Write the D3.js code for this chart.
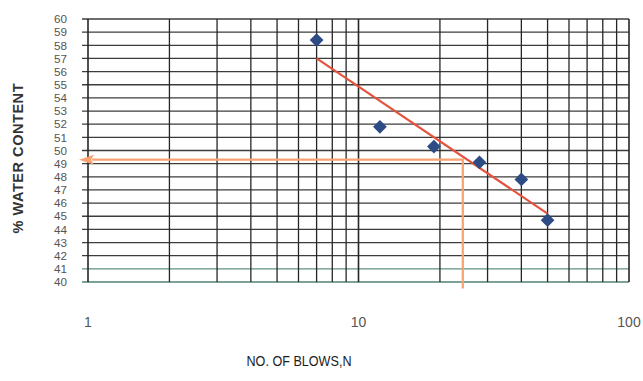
<!DOCTYPE html>
<html>
<head>
<meta charset="utf-8">
<script src="https://cdn.jsdelivr.net/npm/d3@7"></script>
<style>
  body { margin: 0; background: #fff; }
  svg { display: block; font-family: "Liberation Sans", Arial, sans-serif; }
</style>
</head>
<body>
<div id="chart"></div>
<script>
const width = 643,
  height = 381,
  margin = { top: 19, right: 14, bottom: 99, left: 88 }

// data
const blows = [7, 12, 19, 28, 40, 50]
const water = [58.4, 51.8, 50.3, 49.1, 47.8, 44.7]
const fitBlows = [7, 50]
const fitWater = [57.0, 45.2]
const guideBlows = [1.035, 24.3, 24.3]
const guideWater = [49.3, 49.3, 39.5]
const xTicks = [1, 10, 100]
const xGrid = [1, 2, 3, 4, 5, 6, 7, 8, 9, 10, 20, 30, 40, 50, 60, 70, 80, 90, 100]
const yTicks = d3.range(40, 61)

const svg = d3.select("#chart")
  .append("svg")
  .attr("width", width)
  .attr("height", height)

const x = d3.scaleLog()
  .domain([1, 100])
  .range([margin.left, width - margin.right])

const y = d3.scaleLinear()
  .domain([40, 60])
  .range([height - margin.bottom, margin.top])

// horizontal grid (extends a little left as tick marks)
svg.append("g")
  .selectAll("line")
  .data(yTicks)
  .join("line")
    .attr("x1", margin.left - 6)
    .attr("x2", x(100))
    .attr("y1", d => y(d))
    .attr("y2", d => y(d))
    .attr("stroke", d => d === 41 ? "#5f9282" : (d === 40 ? "#4f8276" : "#3c3c3c"))
    .attr("stroke-width", 1.3)

// vertical grid
svg.append("g")
  .selectAll("line")
  .data(xGrid)
  .join("line")
    .attr("x1", d => x(d))
    .attr("x2", d => x(d))
    .attr("y1", y(60))
    .attr("y2", y(40))
    .attr("stroke", "#262626")
    .attr("stroke-width", d => (d === 1 || d === 10 || d === 100) ? 1.6 : 1.3)

// y tick labels, packed tight like the original
svg.append("g")
  .selectAll("text")
  .data(yTicks)
  .join("text")
    .attr("x", 67)
    .attr("y", d => y(d))
    .attr("dy", "0.36em")
    .attr("text-anchor", "end")
    .attr("font-size", 11.7)
    .attr("fill", "#555")
    .text(d => d)

// x tick labels
svg.append("g")
  .selectAll("text")
  .data(xTicks)
  .join("text")
    .attr("x", d => x(d))
    .attr("y", 327)
    .attr("text-anchor", "middle")
    .attr("font-size", 14)
    .attr("fill", "#555")
    .text(d => d)

// axis titles
svg.append("text")
  .attr("transform", `translate(23, ${(y(40) + y(60)) / 2 + 8}) rotate(-90)`)
  .attr("text-anchor", "middle")
  .attr("font-size", 14.5)
  .attr("fill", "#333")
  .attr("font-weight", "bold")
  .attr("textLength", 150)
  .text("% WATER CONTENT")

svg.append("text")
  .attr("x", 299)
  .attr("y", 366)
  .attr("text-anchor", "middle")
  .attr("font-size", 14)
  .attr("fill", "#1e1e1e")
  .attr("textLength", 105)
  .attr("lengthAdjust", "spacingAndGlyphs")
  .text("NO. OF BLOWS,N")

// liquid limit guide with arrow
const orange = "#f6a272"
svg.append("defs").append("marker")
  .attr("id", "arrow")
  .attr("viewBox", "0 0 15 10")
  .attr("refX", 2)
  .attr("refY", 5)
  .attr("markerWidth", 15)
  .attr("markerHeight", 10)
  .attr("markerUnits", "userSpaceOnUse")
  .attr("orient", "auto-start-reverse")
  .append("path")
    .attr("d", "M0,0 L15,5 L0,10 L3,5 Z")
    .attr("fill", orange)

const guide = d3.line()
  .x((d, i) => x(guideBlows[i]))
  .y(d => y(d))

svg.append("path")
  .attr("d", guide(guideWater))
  .attr("fill", "none")
  .attr("stroke", orange)
  .attr("stroke-width", 2.2)
  .attr("marker-start", "url(#arrow)")

// fitted flow line
const fit = d3.line()
  .x((d, i) => x(fitBlows[i]))
  .y(d => y(d))

svg.append("path")
  .attr("d", fit(fitWater))
  .attr("fill", "none")
  .attr("stroke", "#e4533d")
  .attr("stroke-width", 2.2)

// test points
svg.append("g")
  .selectAll("path")
  .data(blows)
  .join("path")
    .attr("transform", (d, i) => `translate(${x(d)}, ${y(water[i])})`)
    .attr("d", d3.symbol().type(d3.symbolDiamond2).size(120))
    .attr("fill", "#2d4b85")
</script>
</body>
</html>
